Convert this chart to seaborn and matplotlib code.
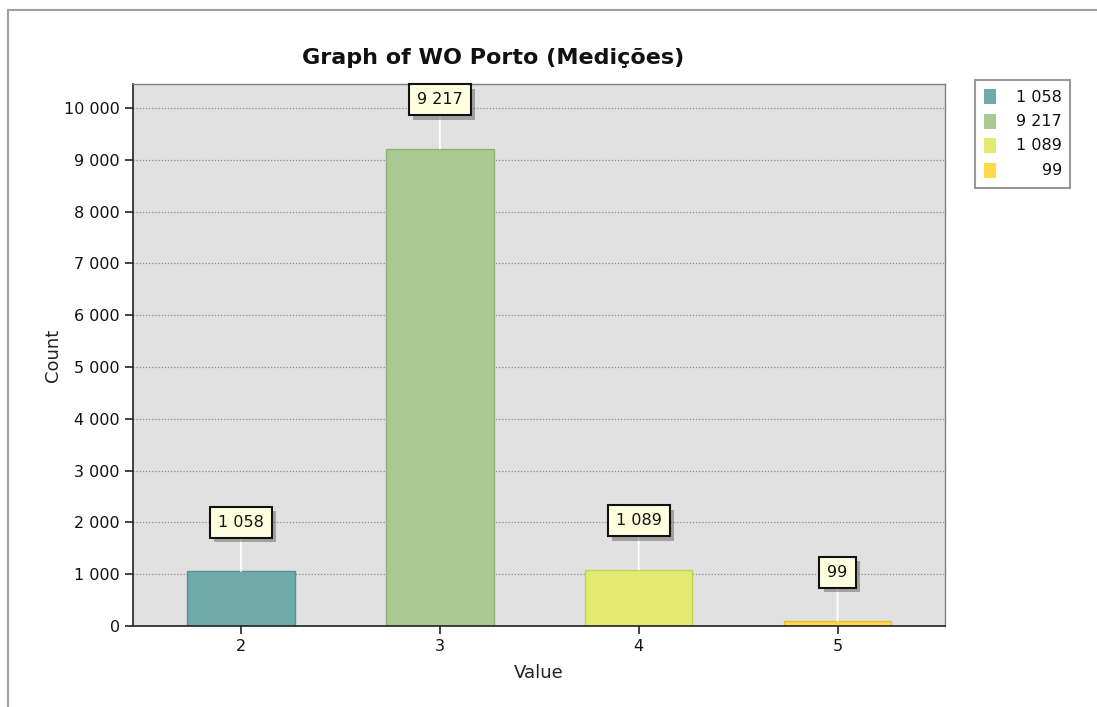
import matplotlib
matplotlib.use('Agg')
import matplotlib.pyplot as plt
import matplotlib.patheffects as pe
import pandas as pd
import seaborn as sns
from matplotlib.ticker import FuncFormatter, MultipleLocator
from matplotlib.patches import Rectangle

# data
categories=['2','3','4','5']
counts=[1058,9217,1089,99]
colors=['#6FAAAB','#A8C98F','#E3EA70','#FFD84C']
edge_colors=['#5A9091','#8FB077','#C9CF5C','#E6BE35']

def fmt(v):
    return f'{int(v):,}'.replace(',',' ')

df=pd.DataFrame({'Value':categories,'Count':counts})

sns.set_style('white')
plt.rcParams['font.family']=['DejaVu Sans']

W,H=1097,707
fig=plt.figure(figsize=(10.97,7.07),dpi=100)
ax=fig.add_axes([0.1212,0.1146,0.7402,0.7666])

sns.barplot(data=df,x='Value',y='Count',hue='Value',palette=colors,
            width=0.54,ax=ax,legend=False,saturation=1)
for bar,ec in zip(ax.patches,edge_colors):
    bar.set_edgecolor(ec)
    bar.set_linewidth(1)

ax.set_facecolor('#E1E1E1')
ax.set_xlim(-0.543,3.54)
ax.set_ylim(0,10463)
ax.yaxis.set_major_locator(MultipleLocator(1000))
ax.yaxis.set_major_formatter(FuncFormatter(lambda v,p: fmt(v)))
ax.grid(axis='y',color='#8A8A8A',linestyle=(0,(1,1.5)),linewidth=0.9)
ax.set_axisbelow(True)

for s in ['left','bottom']:
    ax.spines[s].set_color('#222222')
    ax.spines[s].set_linewidth(1.2)
for s in ['top','right']:
    ax.spines[s].set_color('#808080')
    ax.spines[s].set_linewidth(1)

ax.tick_params(axis='both',direction='out',length=6,width=1.2,color='#222222',
               labelsize=11.5,labelcolor='#111111',left=True,bottom=True)
ax.set_xlabel('Value',fontsize=13,color='#222222',labelpad=7)
ax.set_ylabel('Count',fontsize=13,color='#222222')
ax.yaxis.set_label_coords(-0.0874,0.5)

# title is centred over the chart panel, not over the axes
fig.text(493/W,1-58/H,'Graph of WO Porto (Medições)',ha='center',va='center',
         fontsize=16,fontweight='bold',color='#111111')

# value boxes with connector line and shadow
for i,v in enumerate(counts):
    ax.annotate('',xy=(i,v),xycoords='data',xytext=(0,35),textcoords='offset points',
                arrowprops=dict(arrowstyle='-',color='white',lw=1.3,shrinkA=0,shrinkB=0),
                zorder=3)
    t=ax.annotate(fmt(v),xy=(i,v),xytext=(0,35),textcoords='offset points',
                  ha='center',va='center',fontsize=11.5,color='#111111',zorder=5,
                  bbox=dict(boxstyle='square,pad=0.5',fc='#FFFFE0',ec='#111111',lw=1.5))
    t.get_bbox_patch().set_path_effects([
        pe.SimplePatchShadow(offset=(3,-3),shadow_rgbFace='#555555',alpha=0.45),
        pe.Normal()])

# legend box with right aligned labels
fig.add_artist(Rectangle((975/W,1-188/H),95/W,108/H,transform=fig.transFigure,
                         fc='white',ec='#999999',lw=1.5))
for k,(v,c) in enumerate(zip(counts,colors)):
    yc=97+k*24.5
    fig.add_artist(Rectangle((984/W,1-(yc+7)/H),12/W,15/H,transform=fig.transFigure,
                             fc=c,ec='none'))
    fig.text(1062/W,1-yc/H,fmt(v),ha='right',va='center',fontsize=11.5,color='#111111')

# outer panel border
fig.add_artist(plt.Line2D([8/W,8/W],[0,1-10/H],color='#A0A0A0',lw=1.5,
                          transform=fig.transFigure))
fig.add_artist(plt.Line2D([8/W,1],[1-10/H,1-10/H],color='#A0A0A0',lw=1.5,
                          transform=fig.transFigure))

fig.savefig('out.png',dpi=100,facecolor='white')
